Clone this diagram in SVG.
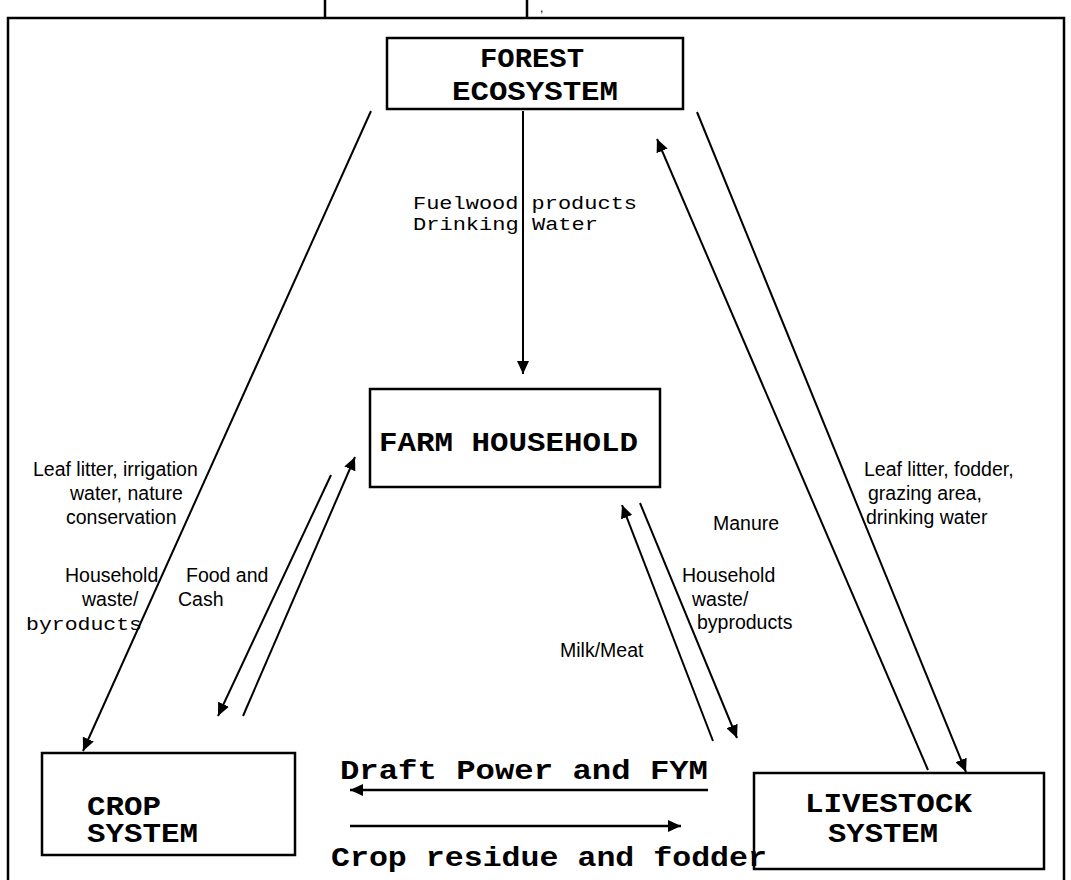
<svg xmlns="http://www.w3.org/2000/svg" width="1071" height="880" viewBox="0 0 1071 880">
<style>
.box{fill:#fff;stroke:#000;stroke-width:2.5}
.frame{fill:none;stroke:#000;stroke-width:2.5}
.con{fill:none;stroke:#000;stroke-width:2;marker-end:url(#ah)}
.bold{font-family:"Liberation Mono","Courier New",monospace;font-weight:bold;font-size:27px;fill:#000}
.mono{font-family:"Liberation Mono","Courier New",monospace;font-size:18px;fill:#000}
.sans{font-family:"Liberation Sans",Arial,sans-serif;font-size:19.5px;fill:#000}
</style>
<defs>
<marker id="ah" markerUnits="userSpaceOnUse" markerWidth="14" markerHeight="12" refX="13" refY="6" orient="auto">
<path d="M0,0 L13,6 L0,12 z" fill="#000"/>
</marker>
</defs>
<rect width="1071" height="880" fill="#fff"/>
<g id="frame">
<path class="frame" d="M8,880 V18 H1064 V880"/>
<path class="frame" d="M325,0 V18 M527,0 V18"/>
<text class="sans" x="540" y="12" style="font-size:12px">,</text>
</g>
<g id="forest">
<rect class="box" x="387" y="38" width="296" height="71"/>
<text class="bold" x="480" y="67" textLength="104" lengthAdjust="spacingAndGlyphs">FOREST</text>
<text class="bold" x="452" y="100" textLength="166" lengthAdjust="spacingAndGlyphs">ECOSYSTEM</text>
</g>
<g id="farm">
<rect class="box" x="370" y="389" width="290" height="98"/>
<text class="bold" x="379" y="451" textLength="259" lengthAdjust="spacingAndGlyphs">FARM HOUSEHOLD</text>
</g>
<g id="crop">
<rect class="box" x="42" y="753" width="253" height="102"/>
<text class="bold" x="87" y="815" textLength="74" lengthAdjust="spacingAndGlyphs">CROP</text>
<text class="bold" x="87" y="842" textLength="111" lengthAdjust="spacingAndGlyphs">SYSTEM</text>
</g>
<g id="livestock">
<rect class="box" x="754" y="773" width="290" height="96"/>
<text class="bold" x="805" y="812" textLength="167" lengthAdjust="spacingAndGlyphs">LIVESTOCK</text>
<text class="bold" x="828" y="842" textLength="110" lengthAdjust="spacingAndGlyphs">SYSTEM</text>
</g>
<g id="connectors">
<line class="con" x1="371" y1="111" x2="83" y2="751"/>
<line class="con" x1="523" y1="111" x2="523" y2="374"/>
<line class="con" x1="928" y1="770" x2="657" y2="139"/>
<line class="con" x1="697" y1="112" x2="966" y2="772"/>
<line class="con" x1="331" y1="475" x2="218" y2="716"/>
<line class="con" x1="243" y1="716" x2="355" y2="457"/>
<line class="con" x1="713" y1="741" x2="622" y2="505"/>
<line class="con" x1="640" y1="503" x2="737" y2="738"/>
<line class="con" x1="708" y1="790" x2="350" y2="790" style="stroke-width:2.5"/>
<line class="con" x1="350" y1="826" x2="681" y2="826" style="stroke-width:2.5"/>
</g>
<g id="labels">
<text class="mono" x="413" y="209" textLength="224" lengthAdjust="spacingAndGlyphs">Fuelwood products</text>
<text class="mono" x="413" y="230" textLength="185" lengthAdjust="spacingAndGlyphs">Drinking Water</text>
<text class="sans" x="33" y="476">Leaf litter, irrigation</text>
<text class="sans" x="70" y="500">water, nature</text>
<text class="sans" x="66" y="524">conservation</text>
<text class="sans" x="65" y="582">Household</text>
<text class="sans" x="82" y="606">waste/</text>
<text class="mono" x="26" y="630" textLength="116" lengthAdjust="spacingAndGlyphs">byroducts</text>
<text class="sans" x="186" y="582">Food and</text>
<text class="sans" x="178" y="606">Cash</text>
<text class="sans" x="864" y="476">Leaf litter, fodder,</text>
<text class="sans" x="868" y="500">grazing area,</text>
<text class="sans" x="866" y="524">drinking water</text>
<text class="sans" x="713" y="530">Manure</text>
<text class="sans" x="682" y="582">Household</text>
<text class="sans" x="692" y="606">waste/</text>
<text class="sans" x="697" y="629">byproducts</text>
<text class="sans" x="560" y="657">Milk/Meat</text>
<text class="bold" x="340" y="779" textLength="368" lengthAdjust="spacingAndGlyphs">Draft Power and FYM</text>
<text class="bold" x="331" y="866" textLength="436" lengthAdjust="spacingAndGlyphs">Crop residue and fodder</text>
</g>
</svg>
